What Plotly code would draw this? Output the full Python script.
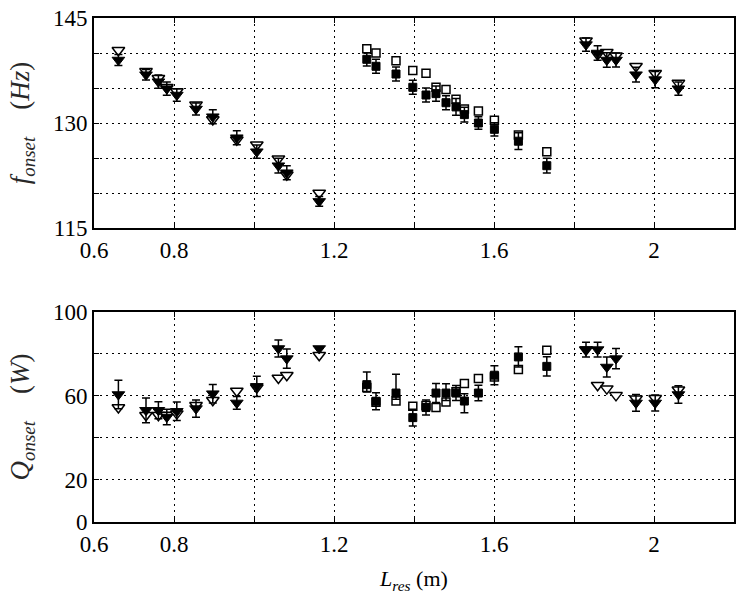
import plotly.graph_objects as go

# ---------------- data ----------------
# triangle series (L_res < 1.2 m and > 1.8 m)
tri_L = [0.661, 0.730, 0.761, 0.782, 0.807, 0.855, 0.897, 0.957, 1.007, 1.061, 1.082, 1.163,
         1.830, 1.859, 1.882, 1.905, 1.955, 2.003, 2.061]
tri_f_meas = [139.0, 136.9, 135.9, 134.9, 134.0, 132.0, 130.9, 127.9, 125.9, 123.9, 122.9, 118.8,
              141.2, 140.0, 139.0, 139.0, 136.9, 136.2, 134.9]
tri_f_err = [0.8, 0.75, 0.95, 0.95, 0.9, 0.85, 1.0, 1.0, 0.95, 1.05, 1.0, 0.7,
             0.95, 1.05, 1.05, 1.0, 1.05, 1.15, 0.95]
tri_f_model = [140.4, 137.4, 136.4, 135.1, 134.5, 132.6, 130.5, 127.6, 126.9, 124.9, 122.6, 120.0,
               141.75, 139.8, 140.1, 139.6, 138.1, 137.1, 135.7]
tri_Q_meas = [60.7, 53.2, 53.2, 50.0, 52.7, 54.0, 61.1, 56.7, 64.6, 82.6, 77.8, 82.6,
              82.1, 82.1, 73.8, 77.8, 56.7, 56.7, 60.7]
tri_Q_err = [6.8, 5.9, 4.0, 3.7, 4.4, 4.1, 4.4, 3.0, 4.8, 4.0, 4.6, 0.0,
             3.5, 3.5, 4.8, 4.8, 4.0, 3.8, 4.2]
tri_Q_model = [54.5, 50.8, 50.8, 51.0, 51.6, 55.6, 58.0, 62.4, 64.0, 68.6, 69.9, 79.4,
               82.0, 65.1, 63.5, 60.3, 58.7, 58.9, 63.0]

# square series (1.2 m < L_res < 1.8 m)
sq_L = [1.282, 1.305, 1.355, 1.397, 1.430, 1.455, 1.480, 1.505, 1.526, 1.561, 1.601, 1.661, 1.732]
sq_f_meas = [139.1, 138.1, 137.0, 135.1, 134.0, 134.2, 132.9, 132.3, 131.2, 130.0, 129.1, 127.4, 123.9]
sq_f_err = [0.95, 1.0, 1.0, 1.0, 1.0, 1.1, 1.0, 1.2, 1.05, 0.9, 0.95, 1.2, 1.05]
sq_f_model = [140.6, 140.0, 138.9, 137.5, 137.1, 135.1, 134.8, 133.4, 132.0, 131.7, 130.4, 128.3, 125.9]
sq_Q_meas = [65.4, 57.5, 61.4, 49.7, 54.5, 61.4, 61.4, 61.4, 57.6, 61.4, 69.9, 78.6, 74.1]
sq_Q_err_plus = [6.0, 4.0, 8.9, 4.0, 3.6, 4.5, 4.4, 3.6, 3.5, 3.7, 4.5, 4.8, 4.6]
sq_Q_err_minus = [3.5, 4.0, 3.0, 4.0, 3.6, 4.5, 3.6, 3.6, 5.6, 3.7, 4.5, 4.8, 4.6]
sq_Q_model = [64.0, 57.0, 57.6, 55.1, 55.5, 54.5, 57.1, 62.0, 65.9, 68.3, 69.0, 72.6, 81.8]

x_ticks = [0.6, 0.8, 1.0, 1.2, 1.4, 1.6, 1.8, 2.0, 2.2]
x_text = ["0.6", "0.8", "", "1.2", "", "1.6", "", "2", ""]
f_ticks = [115, 120, 125, 130, 135, 140, 145]
f_text = ["115", "", "", "130", "", "", "145"]
Q_ticks = [0, 20, 40, 60, 80, 100]
Q_text = ["0", "20", "", "60", "", "100"]

# ---------------- figure ----------------
FONT = "Liberation Serif"
fig = go.Figure()

open_marker_tri = dict(symbol="triangle-down", size=11, color="white", line=dict(color="black", width=1.5))
fill_marker_tri = dict(symbol="triangle-down", size=11, color="black", line=dict(color="black", width=1))
open_marker_sq = dict(symbol="square", size=8, color="white", line=dict(color="black", width=1.5))
fill_marker_sq = dict(symbol="square", size=8, color="black", line=dict(color="black", width=1))

def err(arr, arrm=None):
    d = dict(type="data", array=arr, visible=True, color="black", thickness=1.5, width=4)
    if arrm is not None:
        d["arrayminus"] = arrm
        d["symmetric"] = False
    return d

# top panel
fig.add_trace(go.Scatter(x=tri_L, y=tri_f_model, mode="markers", marker=open_marker_tri,
                         xaxis="x", yaxis="y", showlegend=False))
fig.add_trace(go.Scatter(x=sq_L, y=sq_f_model, mode="markers", marker=open_marker_sq,
                         xaxis="x", yaxis="y", showlegend=False))
fig.add_trace(go.Scatter(x=tri_L, y=tri_f_meas, mode="markers", marker=fill_marker_tri,
                         error_y=err(tri_f_err), xaxis="x", yaxis="y", showlegend=False))
fig.add_trace(go.Scatter(x=sq_L, y=sq_f_meas, mode="markers", marker=fill_marker_sq,
                         error_y=err(sq_f_err), xaxis="x", yaxis="y", showlegend=False))

# bottom panel
fig.add_trace(go.Scatter(x=tri_L, y=tri_Q_model, mode="markers", marker=open_marker_tri,
                         xaxis="x2", yaxis="y2", showlegend=False))
fig.add_trace(go.Scatter(x=sq_L, y=sq_Q_model, mode="markers", marker=open_marker_sq,
                         xaxis="x2", yaxis="y2", showlegend=False))
fig.add_trace(go.Scatter(x=tri_L, y=tri_Q_meas, mode="markers", marker=fill_marker_tri,
                         error_y=err(tri_Q_err), xaxis="x2", yaxis="y2", showlegend=False))
fig.add_trace(go.Scatter(x=sq_L, y=sq_Q_meas, mode="markers", marker=fill_marker_sq,
                         error_y=err(sq_Q_err_plus, sq_Q_err_minus), xaxis="x2", yaxis="y2", showlegend=False))

axis_common = dict(showline=True, linewidth=2, linecolor="black", mirror="ticks",
                   ticks="inside", ticklen=5, tickwidth=1, tickcolor="black",
                   showgrid=True, gridcolor="black", gridwidth=1, griddash="2px,4px",
                   zeroline=False, automargin=False,
                   tickfont=dict(family=FONT, size=23, color="black"))

fig.update_layout(
    width=736, height=595,
    margin=dict(l=94, r=2, t=18, b=73),
    plot_bgcolor="white", paper_bgcolor="white",
    xaxis=dict(axis_common, domain=[0, 1], range=[0.6, 2.2], anchor="y",
               tickmode="array", tickvals=x_ticks, ticktext=x_text),
    yaxis=dict(axis_common, domain=[0.5833, 1], range=[115, 145], anchor="x",
               tickmode="array", tickvals=f_ticks, ticktext=f_text,
               title=dict(text="<i>f</i><sub><i>onset</i></sub>    (<i>Hz</i>)",
                          font=dict(family=FONT, size=27, color="rgb(40,40,40)"))),
    xaxis2=dict(axis_common, domain=[0, 1], range=[0.6, 2.2], anchor="y2",
                tickmode="array", tickvals=x_ticks, ticktext=x_text,
                title=dict(text="<i>L</i><sub><i>res</i></sub> (m)",
                           font=dict(family=FONT, size=22, color="black"))),
    yaxis2=dict(axis_common, domain=[0, 0.4167], range=[0, 100], anchor="x2",
                tickmode="array", tickvals=Q_ticks, ticktext=Q_text,
                title=dict(text="<i>Q</i><sub><i>onset</i></sub>    (<i>W</i>)",
                           font=dict(family=FONT, size=27, color="rgb(40,40,40)"))),
)

fig.write_html("out.html", config={"displayModeBar": False},
               post_script="document.body.style.margin='0';document.body.style.overflow='hidden';")
